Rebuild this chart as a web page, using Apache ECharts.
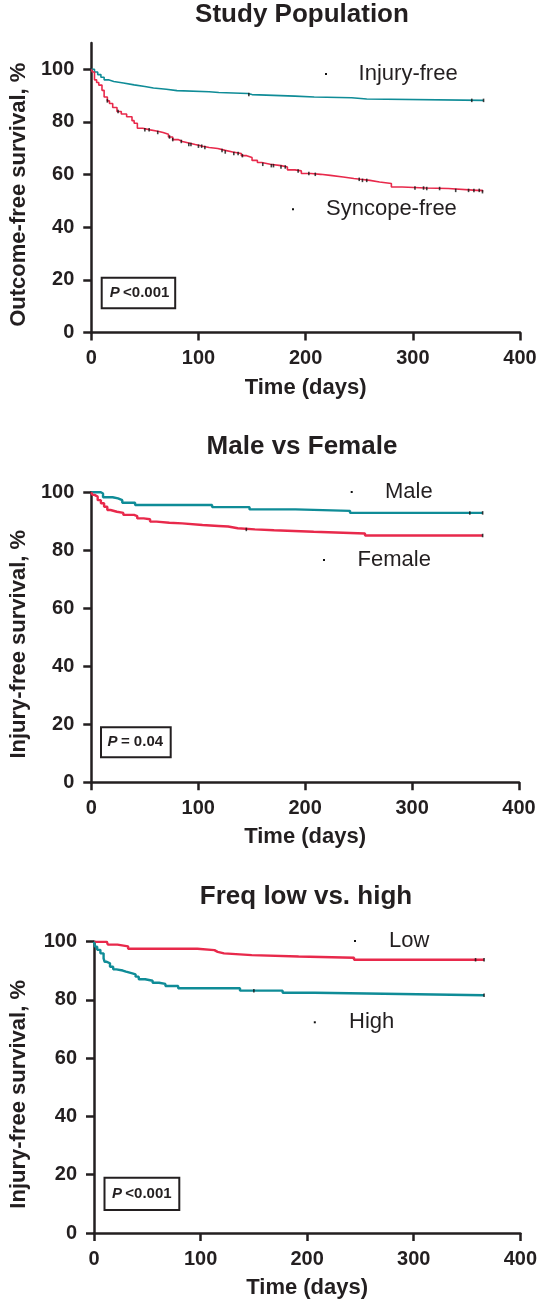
<!DOCTYPE html>
<html>
<head>
<meta charset="utf-8">
<script src="https://cdn.jsdelivr.net/npm/echarts@6/dist/echarts.min.js"></script>
<style>
html,body{margin:0;padding:0;background:#fff;}
#c{width:540px;height:1304px;}
</style>
</head>
<body>
<div id="c"></div>
<script>
// ---------- DATA ----------
const titles = ['Study Population', 'Male vs Female', 'Freq low vs. high'];
const yNames = ['Outcome-free survival, %', 'Injury-free survival, %', 'Injury-free survival, %'];
const xName = 'Time (days)';
const yTicks = [0, 20, 40, 60, 80, 100];
const xTicks = [0, 100, 200, 300, 400];
const pTexts = [['P', '<0.001'], ['P', '= 0.04'], ['P', '<0.001']];

// Panel 1
const injuryT = [0, 3, 6, 9, 12, 16, 21, 30, 40, 50, 58, 70, 80, 110, 119, 146, 150, 190, 208, 243, 257, 366];
const injuryV = [100, 99, 98, 97, 96, 95.4, 94.8, 94.1, 93.5, 92.9, 92.4, 91.9, 91.5, 91.2, 90.8, 90.4, 89.8, 89.5, 89.2, 88.7, 88.2, 88.2];
const injuryCens = [147, 355, 366];
const syncopeT = [0, 1, 3, 5, 7, 10, 12, 15, 17, 20, 24, 28, 33, 38, 40, 43, 48, 55, 62, 67, 72, 76, 81, 85, 91, 97, 104, 110, 118, 125, 132, 140, 145, 150, 155, 159, 167, 177, 183, 190, 196, 205, 214, 223, 235, 245, 251, 260, 269, 280, 290, 312, 333, 360, 365];
const syncopeV = [100, 99, 96, 95, 94, 92, 89.5, 88, 87, 85.5, 84, 83, 82, 80.5, 79.5, 77.6, 77, 76.5, 76, 75.3, 74.3, 73.3, 72.6, 72, 71.4, 70.8, 70.3, 69.9, 69.2, 68.6, 68, 67.2, 66.5, 65.4, 64.6, 63.9, 63.4, 62.9, 61.8, 61.4, 60.4, 60.1, 59.7, 59.1, 58.5, 58.2, 57.8, 57.2, 56.6, 55.3, 54.9, 54.7, 54.0, 54.0, 53.5];
const syncopeCens = [15, 25, 50, 54, 62, 73, 76, 84, 91, 93, 100, 103, 106, 122, 125, 133, 137, 141, 160, 168, 170, 177, 181, 193, 203, 209, 250, 253, 257, 302, 310, 313, 325, 340, 352, 357, 362, 365];

// Panel 2
const maleT = [0, 9, 11, 20, 25, 29, 41, 113, 148, 191, 242, 366];
const maleV = [100, 99.6, 98.3, 97.9, 97.3, 96.4, 95.6, 94.9, 94.1, 93.6, 92.9, 92.9];
const maleCens = [354, 366];
const femaleT = [0, 1, 3, 6, 9, 12, 15, 18, 24, 30, 40, 43, 49, 55, 61, 73, 85, 104, 119, 128, 137, 153, 171, 208, 256, 366];
const femaleV = [100, 99.1, 98.5, 97.3, 96.2, 95.0, 93.9, 93.3, 92.9, 92.2, 91.8, 91.0, 90.7, 89.9, 89.5, 89.3, 88.7, 88.4, 88.2, 87.6, 87.2, 86.9, 86.4, 85.8, 85.1, 85.1];
const femaleCens = [145, 366];

// Panel 3
const lowT = [0, 12, 13, 22, 32, 97, 113, 116, 122, 148, 192, 244, 366];
const lowV = [100, 100, 99.0, 98.4, 97.6, 97.1, 96.5, 96.0, 95.4, 94.9, 94.5, 93.8, 93.8];
const lowCens = [358, 366];
const highT = [0, 1, 3, 6, 9, 10, 12, 15, 18, 21, 27, 30, 36, 39, 42, 48, 55, 61, 67, 79, 137, 177, 207, 256, 366];
const highV = [100, 98.3, 97.2, 96.0, 94.3, 93.1, 92.6, 91.4, 90.5, 90.1, 89.7, 89.1, 88.8, 88.0, 87.1, 86.6, 85.9, 85.5, 84.8, 84.0, 83.2, 82.5, 82.2, 81.6, 81.6];
const highCens = [150, 366];

// ---------- STYLE / LAYOUT ----------
const TEAL = '#0f8c97';
const RED = '#e8294b';
const INK = '#231f20';
const FONT = '"Liberation Sans", Arial, Helvetica, sans-serif';

const grids = [
  {left: 83, top: 43, width: 437, height: 289.5, ymax: 110},
  {left: 83, top: 492.3, width: 436, height: 290, ymax: 100},
  {left: 87.2, top: 941.7, width: 436, height: 291.3, ymax: 100}
];
const titleTops = [2, 434, 884];
const titleCenters = [302, 302, 306];

function kmData(T, V) { return T.map((t, i) => [t, V[i]]); }
function valueAt(T, V, c) { let v = V[0]; for (let i = 0; i < T.length; i++) { if (T[i] <= c) v = V[i]; } return v; }
function censData(T, V, C) { return C.map(c => [c, valueAt(T, V, c)]); }

const panels = [
  [{name: 'Injury-free', T: injuryT, V: injuryV, C: injuryCens, color: TEAL},
   {name: 'Syncope-free', T: syncopeT, V: syncopeV, C: syncopeCens, color: RED}],
  [{name: 'Male', T: maleT, V: maleV, C: maleCens, color: TEAL},
   {name: 'Female', T: femaleT, V: femaleV, C: femaleCens, color: RED}],
  [{name: 'Low', T: lowT, V: lowV, C: lowCens, color: RED},
   {name: 'High', T: highT, V: highV, C: highCens, color: TEAL}]
];
const lineWidths = [1.6, 2.4, 2.4];

// legend label placements (dot x, text x, y)
const legendPos = [
  [[326, 358.6, 74], [293, 326, 209.3]],
  [[351.7, 385, 492], [324, 357.6, 560]],
  [[355, 389, 941], [314.8, 349, 1022.3]]
];
// p-value boxes [x, y, w, h, textX]
const pBoxes = [
  [101.7, 277.7, 73.5, 30.6, 109.7],
  [101, 727.3, 69.7, 30, 107.6],
  [104.5, 1177.7, 74.8, 32.3, 112]
];
const yNameGaps = [60, 60, 64];

const option = {
  animation: false,
  backgroundColor: '#fff',
  textStyle: {fontFamily: FONT},
  title: titles.map((t, i) => ({
    text: t, left: titleCenters[i], top: titleTops[i], textAlign: 'center', padding: 0,
    textStyle: {fontSize: 26, fontWeight: 'bold', color: INK, fontFamily: FONT}
  })),
  grid: grids.map(g => ({left: g.left, top: g.top, width: g.width, height: g.height, containLabel: false})),
  xAxis: grids.map((g, i) => ({
    type: 'value', gridIndex: i, min: 0, max: 400, interval: 100,
    name: xName, nameLocation: 'middle', nameGap: 44,
    nameTextStyle: {fontSize: 22, fontWeight: 'bold', color: INK, fontFamily: FONT},
    axisLine: {show: true, onZero: false, lineStyle: {color: INK, width: 2.5}},
    axisTick: {show: true, length: 8, lineStyle: {color: INK, width: 2.5}},
    axisLabel: {fontSize: 20, fontWeight: 'bold', color: INK, margin: 16, fontFamily: FONT},
    splitLine: {show: false}
  })),
  yAxis: grids.map((g, i) => ({
    type: 'value', gridIndex: i, min: 0, max: g.ymax,
    name: yNames[i], nameLocation: 'middle', nameGap: yNameGaps[i],
    nameTextStyle: {fontSize: 22, fontWeight: 'bold', color: INK, fontFamily: FONT, padding: [0, 14, 0, 0]},
    axisLine: {show: true, onZero: false, lineStyle: {color: INK, width: 2.5}},
    axisTick: {show: true, length: 8, lineStyle: {color: INK, width: 2.5}, customValues: yTicks},
    axisLabel: {fontSize: 20, fontWeight: 'bold', color: INK, margin: 17, fontFamily: FONT, customValues: yTicks},
    splitLine: {show: false}
  })),
  series: [],
  graphic: []
};

panels.forEach((pan, i) => {
  pan.forEach((s, k) => {
    option.series.push({
      type: 'line', name: s.name, xAxisIndex: i, yAxisIndex: i, step: 'end',
      data: kmData(s.T, s.V), symbol: 'none', color: s.color,
      lineStyle: {color: s.color, width: lineWidths[i]}, z: 3
    });
    option.series.push({
      type: 'scatter', name: s.name + ' censored', xAxisIndex: i, yAxisIndex: i,
      data: censData(s.T, s.V, s.C), symbol: 'rect', symbolSize: [1.6, 3.5],
      itemStyle: {color: '#111'}, silent: true, z: 4
    });
    const lp = legendPos[i][k];
    option.graphic.push({type: 'rect', shape: {x: lp[0] - 1, y: lp[2] - 1, width: 2, height: 2}, style: {fill: '#111'}});
    option.graphic.push({type: 'text', x: lp[1], y: lp[2], style: {text: s.name, fontSize: 22, fontFamily: FONT, fill: INK, textVerticalAlign: 'middle', verticalAlign: 'middle'}});
  });
  const b = pBoxes[i];
  option.graphic.push({type: 'rect', shape: {x: b[0], y: b[1], width: b[2], height: b[3]}, style: {fill: 'none', stroke: INK, lineWidth: 2}});
  option.graphic.push({type: 'text', x: b[4], y: b[1] + b[3] / 2, style: {
    text: '{i|' + pTexts[i][0] + '} {n|' + pTexts[i][1] + '}',
    verticalAlign: 'middle', textVerticalAlign: 'middle',
    rich: {
      i: {fontSize: 15, fontWeight: 'bold', fontStyle: 'italic', fontFamily: FONT, fill: INK, color: INK},
      n: {fontSize: 15, fontWeight: 'bold', fontFamily: FONT, fill: INK, color: INK}
    }
  }});
});

const chart = echarts.init(document.getElementById('c'), null, {renderer: 'canvas'});
chart.setOption(option);
</script>
</body>
</html>
